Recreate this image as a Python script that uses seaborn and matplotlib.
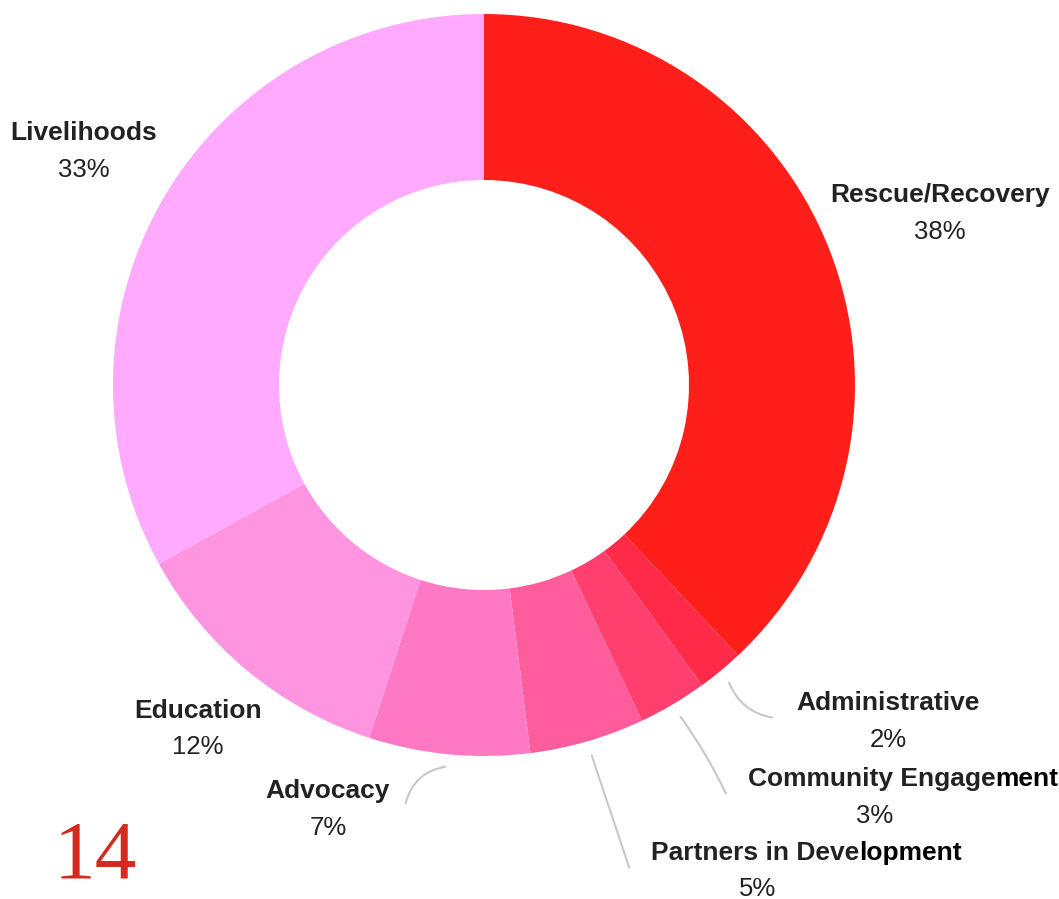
import numpy as np
import matplotlib.pyplot as plt
import seaborn as sns

# funding split, clockwise from the top
categories = ['Rescue/Recovery', 'Administrative', 'Community Engagement',
              'Partners in Development', 'Advocacy', 'Education', 'Livelihoods']
shares = [38, 2, 3, 5, 7, 12, 33]
colors = ['#FF1F1A', '#FF2A48', '#FF3F6E', '#FF5C9C', '#FF78C4', '#FF94E0', '#FFAAFF']

sns.set_theme(style='white')
plt.rcParams['font.family'] = ['Liberation Sans', 'DejaVu Sans']

fig = plt.figure(figsize=(10.59, 8.99), dpi=100)
ax = fig.add_axes([0, 0, 1, 1])

cx, cy, R = 484, 899 - 385, 371
wedges, _ = ax.pie(shares, colors=colors, startangle=90, counterclock=False,
                   center=(cx, cy), radius=R, frame=True,
                   wedgeprops=dict(width=166, linewidth=0))
ax.set_xlim(0, 1059)
ax.set_ylim(0, 899)
ax.set_aspect('equal')
ax.axis('off')

# label positions (pixel coords from the top); split = part drawn in grey
labels = {
    'Rescue/Recovery': ((940, 195), (940, 232), None),
    'Livelihoods': ((84, 133), (84, 170), None),
    'Education': ((198, 711), (198, 747), None),
    'Advocacy': ((328, 791), (328, 828), None),
    'Administrative': ((888, 703), (888, 740), None),
    'Community Engagement': ((903, 779), (875, 816), 'Community Engage'),
    'Partners in Development': ((806, 853), (758, 889), 'Partners in Deve'),
}
leader_end = {
    'Administrative': (775, 718, -0.3),
    'Community Engagement': (727, 796, 0.05),
    'Partners in Development': (630, 870, 0.0),
    'Advocacy': (405, 806, -0.35),
}

LBL, PCT = 19, 18.5
txt_color = '#222222'
renderer = fig.canvas.get_renderer()


def text_width(s, **kw):
    t = ax.text(0, 0, s, **kw)
    w = t.get_window_extent(renderer).width
    t.remove()
    return w


for cat, val, w in zip(categories, shares, wedges):
    (tx, ty), (px, py), split = labels[cat]
    if split is None:
        ax.text(tx, 899 - ty, cat, ha='center', va='center', fontsize=LBL,
                fontweight='bold', color=txt_color)
    else:
        rest = cat[len(split):]
        full_w = text_width(cat, fontsize=LBL, fontweight='bold')
        head_w = text_width(split, fontsize=LBL, fontweight='bold')
        x0 = tx - full_w / 2
        ax.text(x0, 899 - ty, split, ha='left', va='center', fontsize=LBL,
                fontweight='bold', color=txt_color)
        ax.text(x0 + head_w, 899 - ty, rest, ha='left', va='center',
                fontsize=LBL, fontweight='bold', color='black')
    ax.text(px, 899 - py, f'{val}%', ha='center', va='center', fontsize=PCT,
            color=txt_color)
    if cat in leader_end:
        ang = np.deg2rad((w.theta1 + w.theta2) / 2)
        sx = cx + (R + 12) * np.cos(ang)
        sy = cy + (R + 12) * np.sin(ang)
        ex, ey, rad = leader_end[cat]
        ax.annotate('', xy=(sx, sy), xytext=(ex, 899 - ey),
                    arrowprops=dict(arrowstyle='-', color='#c8c8c8', lw=1.5,
                                    connectionstyle=f'arc3,rad={rad}'))

ax.text(95, 899 - 858, '14', ha='center', va='center', fontsize=60,
        color='#D42A20', family='Liberation Serif')

fig.savefig('out.png', dpi=100)
